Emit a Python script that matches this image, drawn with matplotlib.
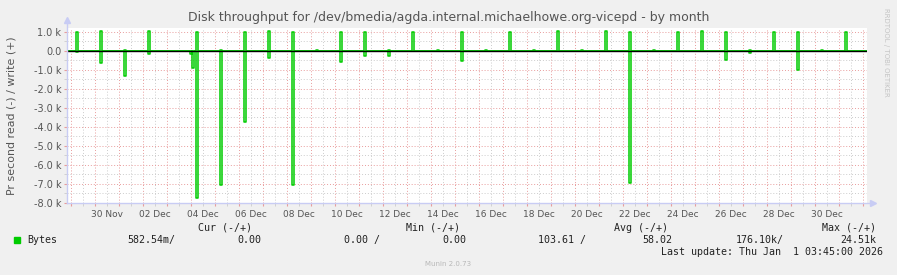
import numpy as np
import matplotlib.pyplot as plt
from matplotlib.ticker import MultipleLocator, FixedLocator

# ---------- data ---------- #
# hours since 30 Nov 00:00, write (+) and read (-) in bytes/s (2h averages)
spike_hours = [-18.3, 5.7, 29.7, 53.7, 96.0, 98.0, 101.4, 126.0, 149.7, 173.7,
               197.7, 221.7, 246.0, 269.7, 294.0, 317.8, 342.7, 366.7, 390.7,
               414.7, 438.7, 462.7, 486.7, 510.7, 534.7, 558.7, 582.7, 606.7,
               630.7, 654.7, 678.7, 702.7, 726.7, 750.7]
write_vals = [1000, 1050, 50, 1050, 0, 0, 1000, 50, 1000, 1050,
              1000, 50, 1000, 1000, 50, 1000, 50, 1000, 50,
              1000, 50, 1050, 50, 1050, 1000, 50, 1000, 1050,
              1000, 50, 1000, 1000, 50, 1000]
read_vals = [70, 650, 1330, 180, 150, 900, 7720, 7050, 3720, 380,
             7050, 0, 600, 280, 280, 0, 0, 550, 0,
             0, 0, 0, 0, 0, 6930, 0, 0, 0,
             500, 100, 0, 1020, 0, 0]

x_end = 32 * 24 + 3.75          # Thu Jan 1 03:45
x_start = x_end - 800            # munin month graph: 800 px, 1 px = 1 h
day_labels = ['30 Nov', '02 Dec', '04 Dec', '06 Dec', '08 Dec', '10 Dec', '12 Dec',
              '14 Dec', '16 Dec', '18 Dec', '20 Dec', '22 Dec', '24 Dec', '26 Dec',
              '28 Dec', '30 Dec']

legend_cols = ['Cur (-/+)', 'Min (-/+)', 'Avg (-/+)', 'Max (-/+)']
legend_vals = ['582.54m/', '0.00', '0.00 /', '0.00', '103.61 /', '58.02', '176.10k/', '24.51k']

GREEN = '#00cc00'
W, H = 897, 275


def pulses(hours, vals, sign):
    xs, ys = [x_start], [0]
    for t, v in zip(hours, vals):
        xs += [t - 1, t - 1, t + 1, t + 1]
        ys += [0, sign * v, sign * v, 0]
    xs.append(x_end)
    ys.append(0)
    return xs, ys


fig = plt.figure(figsize=(W / 100, H / 100), dpi=100, facecolor='#f0f0f0')
ax = fig.add_axes([67 / W, 72 / H, 800 / W, 175 / H])
ax.set_facecolor('white')

xw, yw = pulses(spike_hours, write_vals, 1)
xr, yr = pulses(spike_hours, read_vals, -1)
ax.plot(xr, yr, color=GREEN, lw=1.1, zorder=2)
ax.plot(xw, yw, color=GREEN, lw=1.1, zorder=2)
ax.axhline(0, color='black', lw=1.0, zorder=3)

ax.set_xlim(x_start, x_end)
ax.set_ylim(-8000, 1210)

# grid: red every day / 1k, gray every 12h / 0.5k
ax.xaxis.set_major_locator(FixedLocator(np.arange(-24, 769, 24)))
noon = np.arange(-12, 769, 24)
ax.set_xticks(noon, minor=True)
lab = []
for n in noon:
    k = (n - 12) / 48
    lab.append(day_labels[int(k)] if k >= 0 and k == int(k) and int(k) < len(day_labels) else '')
ax.set_xticklabels(lab, minor=True)
ax.set_xticklabels([])

yt = np.arange(-8000, 1001, 1000)
ax.set_yticks(yt)
ax.set_yticklabels(['0.0' if v == 0 else f'{v / 1000:.1f} k' for v in yt])
ax.yaxis.set_minor_locator(MultipleLocator(500))

dots = (0, (1, 2))
ax.grid(which='major', color='#e89c9c', ls=dots, lw=0.7)
ax.grid(which='minor', color='#cccccc', ls=dots, lw=0.7)
ax.set_axisbelow(True)

ax.tick_params(which='both', labelcolor='#555555', pad=2)
ax.tick_params(axis='x', which='both', labelsize=6.5, pad=3)
ax.tick_params(axis='y', which='both', labelsize=7.0)
ax.tick_params(which='major', length=2, color='#e89c9c')
ax.tick_params(which='minor', length=2, color='#cccccc')

for s in ['top', 'right', 'left', 'bottom']:
    ax.spines[s].set_visible(False)
axis_col = '#c8ccf4'
ax.plot([0, 1.006], [0, 0], color=axis_col, lw=1, transform=ax.transAxes, clip_on=False, zorder=4)
ax.plot([0, 0], [0, 1.035], color=axis_col, lw=1, transform=ax.transAxes, clip_on=False, zorder=4)
ax.plot([1.008], [0], marker='>', ms=4, color=axis_col, transform=ax.transAxes, clip_on=False)
ax.plot([0], [1.043], marker='^', ms=4, color=axis_col, transform=ax.transAxes, clip_on=False)

# ---------- texts ---------- #
def ftext(x, y, s, **kw):
    fig.text(x / W, 1 - y / H, s, **kw)

ftext(449, 18, 'Disk throughput for /dev/bmedia/agda.internal.michaelhowe.org-vicepd - by month',
      ha='center', va='center', fontsize=9, color='#555555')
ftext(12, 116, 'Pr second read (-) / write (+)', rotation=90, ha='center', va='center',
      fontsize=7.9, color='#555555')
ftext(886, 52, 'RRDTOOL / TOBI OETIKER', rotation=-90, ha='center', va='center',
      fontsize=5, color='#c4c4c4')

mono = dict(family='DejaVu Sans Mono', fontsize=7.2, color='#222222', va='center')
for txt, xr_ in zip(legend_cols, [252, 460, 668, 876]):
    ftext(xr_, 228, txt, ha='right', **mono)

fig.patches.append(plt.Rectangle((14 / W, 1 - 243 / H), 6 / W, 6 / H,
                                 transform=fig.transFigure, color=GREEN))
ftext(27, 240, 'Bytes', ha='left', **mono)
val_pos = [(127, 'left'), (261, 'right'), (344, 'left'), (466, 'right'),
           (538, 'left'), (672, 'right'), (736, 'left'), (876, 'right')]
for txt, (xp, ha) in zip(legend_vals, val_pos):
    ftext(xp, 240, txt, ha=ha, **mono)
ftext(883, 252, 'Last update: Thu Jan  1 03:45:00 2026', ha='right', **mono)
ftext(448, 264, 'Munin 2.0.73', ha='center', va='center', fontsize=5, color='#b8b8b8')

fig.savefig('out.png', dpi=100, facecolor=fig.get_facecolor())
